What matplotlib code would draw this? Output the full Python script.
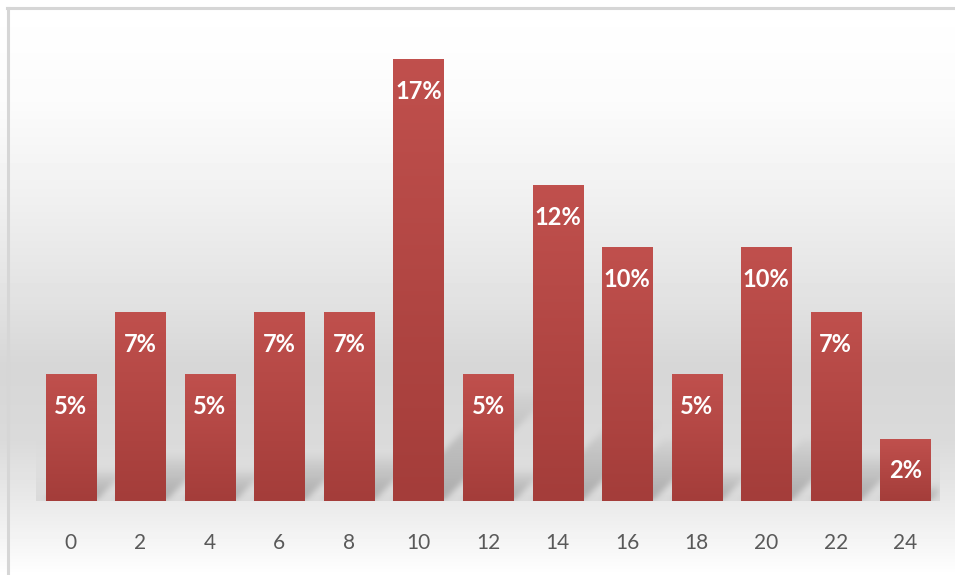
import numpy as np
import matplotlib.pyplot as plt
from matplotlib.colors import LinearSegmentedColormap
from matplotlib.lines import Line2D

plt.rcParams['font.family'] = ['Lato', 'DejaVu Sans']

# share of cases per hour bin
hours = [0, 2, 4, 6, 8, 10, 12, 14, 16, 18, 20, 22, 24]
share = [0.049, 0.073, 0.049, 0.073, 0.073, 0.171, 0.049,
         0.122, 0.098, 0.049, 0.098, 0.073, 0.024]
bar_labels = ['5%', '7%', '5%', '7%', '7%', '17%', '5%',
              '12%', '10%', '5%', '10%', '7%', '2%']

W, H = 955, 575
fig = plt.figure(figsize=(W / 100, H / 100), dpi=100)

# background: vertical grey gradient over the whole figure
bg = fig.add_axes([0, 0, 1, 1], zorder=-5)
bg.set_axis_off()
stops_y = [0, 100, 200, 300, 367, 440, 500, 550, 575]
stops_v = [1.0, 0.985, 0.94, 0.885, 0.84, 0.855, 0.915, 0.97, 1.0]
grad = np.interp(np.arange(H), stops_y, stops_v)
bg.imshow(np.tile(grad[:, None], (1, 8)), cmap='gray', vmin=0, vmax=1,
          aspect='auto', extent=[0, 1, 0, 1], interpolation='nearest')
bg.set_xlim(0, 1)
bg.set_ylim(0, 1)
# chart border (left and top visible)
fig.add_artist(Line2D([7.5 / W, 7.5 / W], [0, 1 - 8 / H], transform=fig.transFigure,
                      color='#d6d6d6', lw=2.2))
fig.add_artist(Line2D([6.5 / W, 1], [1 - 8 / H, 1 - 8 / H], transform=fig.transFigure,
                      color='#d6d6d6', lw=2.2))

ax = fig.add_axes([36 / W, 74 / H, 904 / W, 465 / H])
ax.patch.set_alpha(0)
for s in ax.spines.values():
    s.set_visible(False)

pos = np.arange(len(hours))
bars = ax.bar(pos, share, width=0.72, color='#b34643', zorder=3)
xlim = (-0.5, len(hours) - 0.5)
ylim = (0, 0.18)
ax.set_xlim(xlim)
ax.set_ylim(ylim)

# gradient fill and label for each bar
bar_cmap = LinearSegmentedColormap.from_list('bar', ['#a43d3a', '#c0504d'])
for r, lab in zip(bars, bar_labels):
    x0, w, h = r.get_x(), r.get_width(), r.get_height()
    ax.imshow(np.tile(np.linspace(1, 0, 200)[:, None], (1, 4)), cmap=bar_cmap,
              vmin=0, vmax=1, extent=[x0, x0 + w, 0, h], aspect='auto', zorder=4,
              interpolation='nearest')
    ax.annotate(lab, (x0 + w / 2, h), xytext=(0, -32),
                textcoords='offset pixels', ha='center', va='center',
                color='white', fontweight='bold', fontsize=17, zorder=6)

# grey floor and soft perspective shadows behind the bars
bb = ax.bbox
aw, ah = int(round(bb.width)), int(round(bb.height))
GX, GY = np.meshgrid(np.arange(aw) + 0.5, np.arange(ah) + 0.5)
floor = np.clip(1 - GY / 60.0, 0, 1) * 0.9
sh = np.zeros((ah, aw))
for r in bars:
    (px0, pb), (px1, pt) = ax.transData.transform(
        [(r.get_x(), 0), (r.get_x() + r.get_width(), r.get_height())])
    px0 -= bb.x0; px1 -= bb.x0; pb -= bb.y0; pt -= bb.y0
    s = 0.25 * (pt - pb)
    t = GY - pb
    inside = (t >= 0) & (t <= s) & (GX >= px0 + t) & (GX <= px1 + t)
    sh = np.maximum(sh, np.where(inside, 0.6 * (1 - t / s) ** 0.7, 0))


def box_blur(a, r):
    k = np.ones(2 * r + 1) / (2 * r + 1)
    a = np.apply_along_axis(lambda m: np.convolve(m, k, mode='same'), 0, a)
    return np.apply_along_axis(lambda m: np.convolve(m, k, mode='same'), 1, a)


sh = box_blur(box_blur(sh, 3), 3)
floor_img = np.zeros((ah, aw, 4))
floor_img[..., :3] = 0.85
floor_img[..., 3] = floor
ax.imshow(floor_img, origin='lower', extent=[*xlim, *ylim], aspect='auto',
          zorder=1, interpolation='nearest')
shadow_img = np.zeros((ah, aw, 4))
shadow_img[..., :3] = 0.55
shadow_img[..., 3] = np.clip(sh, 0, 1)
ax.imshow(shadow_img, origin='lower', extent=[*xlim, *ylim], aspect='auto',
          zorder=2, interpolation='nearest')
ax.set_xlim(xlim)
ax.set_ylim(ylim)

ax.set_xticks(pos, [str(v) for v in hours])
ax.set_yticks([])
ax.tick_params(axis='x', length=0, pad=23, labelsize=15, labelcolor='#595959')

fig.savefig('out.png', dpi=100)
